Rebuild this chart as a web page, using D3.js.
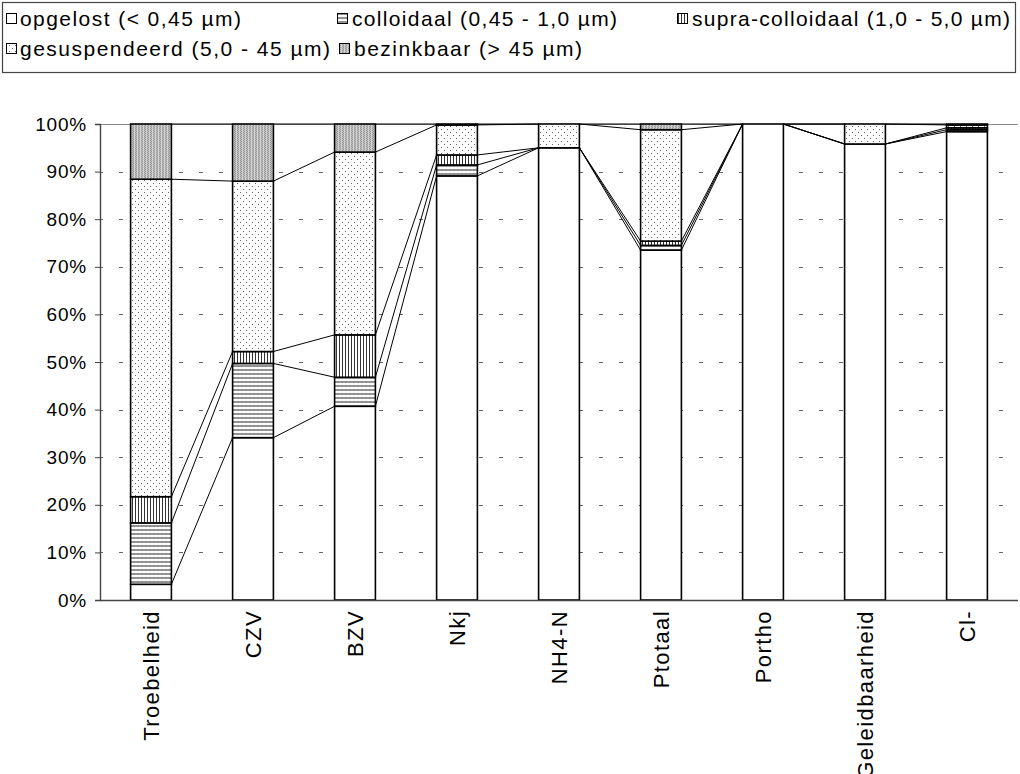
<!DOCTYPE html>
<html>
<head>
<meta charset="utf-8">
<script src="https://cdn.jsdelivr.net/npm/d3@7"></script>
<style>
  html, body { margin: 0; padding: 0; background: #fff; }
  svg { display: block; font-family: Arial, "Liberation Sans", sans-serif; }
</style>
</head>
<body>
<svg id="chart" width="1020" height="774"></svg>
<script>
// Parameters (x axis)
const categories = ["Troebelheid", "CZV", "BZV", "Nkj", "NH4-N", "Ptotaal", "Portho", "Geleidbaarheid", "Cl-"];

// Fractions per size class, in percent of total
const seriesNames = [
  "opgelost (< 0,45 µm)",
  "colloidaal (0,45 - 1,0 µm)",
  "supra-colloidaal (1,0 - 5,0 µm)",
  "gesuspendeerd (5,0 - 45 µm)",
  "bezinkbaar (> 45 µm)"
];
const opgelost        = [3.3, 34.1, 40.7, 89.1, 95.0, 73.5, 100, 95.8, 98.4];
const colloidaal      = [12.9, 15.6, 6.1, 2.3, 0, 1.0, 0, 0, 0.4];
const supraColloidaal = [5.5, 2.5, 8.9, 2.1, 0, 0.9, 0, 0, 0.4];
const gesuspendeerd   = [66.7, 35.8, 38.4, 6.3, 5.0, 23.4, 0, 4.2, 0.6];
const bezinkbaar      = [11.6, 12.0, 5.9, 0.2, 0, 1.2, 0, 0, 0.2];

const yTicks = [0, 10, 20, 30, 40, 50, 60, 70, 80, 90, 100];

const seriesValues = [opgelost, colloidaal, supraColloidaal, gesuspendeerd, bezinkbaar];
const patternIds = ["fill-opgelost", "fill-colloidaal", "fill-supra", "fill-gesusp", "fill-bezink"];

const svg = d3.select("#chart");
const defs = svg.append("defs");

// --- fill patterns ---
function pattern(id, w, h) {
  return defs.append("pattern").attr("id", id)
    .attr("patternUnits", "userSpaceOnUse").attr("width", w).attr("height", h);
}
// opgelost: plain white
pattern(patternIds[0], 4, 4).append("rect").attr("width", 4).attr("height", 4).attr("fill", "#fff");
// colloidaal: horizontal zigzag lines
{
  const p = pattern(patternIds[1], 4, 4);
  p.append("rect").attr("width", 4).attr("height", 4).attr("fill", "#fff");
  p.append("path").attr("d", "M0,2.5 L1,1.5 L2,2.5 L3,1.5 L4,2.5")
    .attr("fill", "none").attr("stroke", "#6e6e6e").attr("stroke-width", 1.1);
}
// supra-colloidaal: narrow vertical lines
{
  const p = pattern(patternIds[2], 3, 4);
  p.append("rect").attr("width", 3).attr("height", 4).attr("fill", "#fff");
  p.append("rect").attr("x", 0).attr("width", 1).attr("height", 4).attr("fill", "#333");
}
// gesuspendeerd: sparse dots
{
  const p = pattern(patternIds[3], 6, 6);
  p.append("rect").attr("width", 6).attr("height", 6).attr("fill", "#fff");
  p.append("rect").attr("x", 0).attr("y", 0).attr("width", 1).attr("height", 1).attr("fill", "#666");
  p.append("rect").attr("x", 3).attr("y", 3).attr("width", 1).attr("height", 1).attr("fill", "#666");
}
// bezinkbaar: dense grey texture
{
  const p = pattern(patternIds[4], 3, 2);
  p.append("rect").attr("width", 3).attr("height", 2).attr("fill", "#bcbcbc");
  p.append("rect").attr("x", 0).attr("y", 0).attr("width", 1).attr("height", 1).attr("fill", "#999");
  p.append("rect").attr("x", 1).attr("y", 1).attr("width", 1).attr("height", 1).attr("fill", "#999");
  p.append("rect").attr("x", 2).attr("y", 0).attr("width", 1).attr("height", 2).attr("fill", "#d2d2d2");
}

// --- scales ---
const plot = { left: 100, right: 1018, top: 124, bottom: 600 };
const x = d3.scaleBand().domain(categories).range([plot.left, plot.right])
  .paddingInner(0.6).paddingOuter(0.3);
const y = d3.scaleLinear().domain([0, 100]).range([plot.bottom, plot.top]);

// stacked data
const table = categories.map((c, i) => {
  const row = { cat: c };
  seriesNames.forEach((s, k) => row[s] = seriesValues[k][i]);
  return row;
});
const stacked = d3.stack().keys(seriesNames)(table);

// --- gridlines ---
const grid = svg.append("g");
grid.selectAll("line.dash").data(yTicks.filter(t => t > 0 && t < 100)).join("line")
  .attr("x1", plot.left).attr("x2", plot.right)
  .attr("y1", d => Math.round(y(d)) + 0.5).attr("y2", d => Math.round(y(d)) + 0.5)
  .attr("stroke", "#666").attr("stroke-width", 1)
  .attr("stroke-dasharray", "4,16").attr("stroke-dashoffset", 1);
grid.append("line")
  .attr("x1", plot.left).attr("x2", plot.right)
  .attr("y1", y(100) + 0.5).attr("y2", y(100) + 0.5)
  .attr("stroke", "#888").attr("stroke-width", 1.2);

// --- series lines between adjacent columns ---
const lines = svg.append("g");
stacked.forEach(layer => {
  for (let i = 0; i < categories.length - 1; i++) {
    lines.append("line")
      .attr("x1", x(categories[i]) + x.bandwidth())
      .attr("y1", y(layer[i][1]))
      .attr("x2", x(categories[i + 1]))
      .attr("y2", y(layer[i + 1][1]))
      .attr("stroke", "#000").attr("stroke-width", 1);
  }
});

// --- bars ---
const bars = svg.append("g");
stacked.forEach((layer, k) => {
  bars.selectAll(null).data(layer.filter(d => d[1] - d[0] > 0)).join("rect")
    .attr("x", d => x(d.data.cat))
    .attr("width", x.bandwidth())
    .attr("y", d => y(d[1]))
    .attr("height", d => y(d[0]) - y(d[1]))
    .attr("fill", `url(#${patternIds[k]})`)
    .attr("stroke", "#000").attr("stroke-width", 1.6);
});

// --- axes ---
const yAxis = svg.append("g").attr("transform", `translate(${plot.left},0)`)
  .call(d3.axisLeft(y).tickValues(yTicks).tickFormat(d => d + "%").tickSize(5).tickPadding(8));
yAxis.select(".domain").attr("stroke", "#444").attr("stroke-width", 1.4);
yAxis.selectAll(".tick line").attr("stroke", "#444");
yAxis.selectAll("text").attr("font-size", 19).attr("fill", "#000")
  .attr("letter-spacing", 0.8)
  .attr("font-family", "Arial, 'Liberation Sans', sans-serif");

const xAxis = svg.append("g").attr("transform", `translate(0,${plot.bottom})`)
  .call(d3.axisBottom(x).tickSize(0).tickPadding(0));
xAxis.select(".domain").attr("stroke", "#444").attr("stroke-width", 1.4)
  .attr("d", `M${plot.left},0.5H${plot.right}`);
xAxis.selectAll(".tick text")
  .attr("font-size", 22).attr("fill", "#000")
  .attr("letter-spacing", 1.4)
  .attr("font-family", "Arial, 'Liberation Sans', sans-serif")
  .attr("transform", "rotate(-90)")
  .attr("text-anchor", "end")
  .attr("x", -10).attr("y", 0).attr("dy", "0.36em");

// --- legend ---
const legend = svg.append("g");
legend.append("rect").attr("x", 2.5).attr("y", 2.5).attr("width", 1013).attr("height", 70)
  .attr("fill", "#fff").attr("stroke", "#444").attr("stroke-width", 1.2);
const legendPos = [[6, 19], [337, 19], [677, 19], [6, 49], [339, 49]];
const legendTextX = [20, 352, 692, 20, 354];
const legendWidths = [221, 265, 318, 310, 228];
seriesNames.forEach((name, k) => {
  const [lx, ly] = legendPos[k];
  legend.append("rect").attr("x", lx + 0.5).attr("y", ly - 5.5).attr("width", 10).attr("height", 10)
    .attr("fill", `url(#${patternIds[k]})`).attr("stroke", "#000").attr("stroke-width", 1);
  legend.append("text").attr("x", legendTextX[k]).attr("y", ly).attr("dy", "0.35em")
    .attr("font-size", 21).attr("fill", "#000")
    .attr("textLength", legendWidths[k]).attr("lengthAdjust", "spacing")
    .text(name);
});
</script>
</body>
</html>
